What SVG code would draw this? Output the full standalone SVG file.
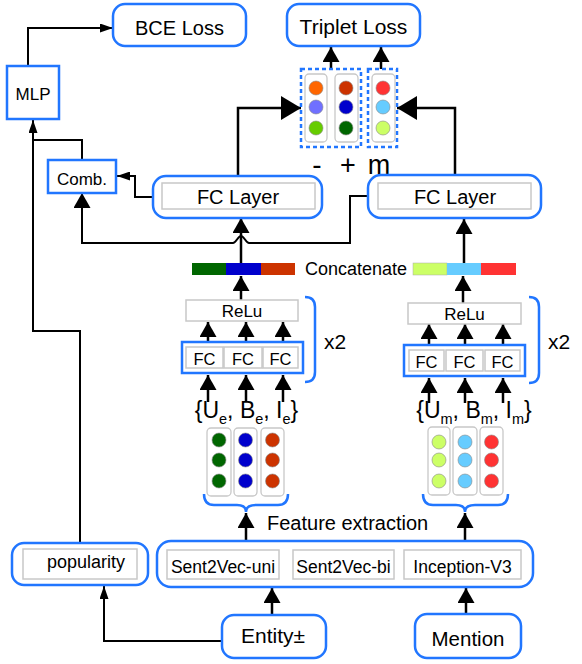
<svg xmlns="http://www.w3.org/2000/svg" width="582" height="664" viewBox="0 0 582 664">
<defs>
<style>
text{font-family:"Liberation Sans",Arial,sans-serif;fill:#000}
.rb{fill:#fff;stroke:#2176ff;stroke-width:2.5}
.sb{fill:#fff;stroke:#2176ff;stroke-width:2.5}
.gb{fill:#fff;stroke:#c8c8c8;stroke-width:1.5}
.col{fill:#fff;stroke:#c8c8c8;stroke-width:1.3}
.dash{fill:none;stroke:#2176ff;stroke-width:2.5;stroke-dasharray:4 3}
.br{fill:none;stroke:#2176ff;stroke-width:2.5}
.c{stroke:#888;stroke-width:0.6}
.ln{fill:none;stroke:#000;stroke-width:2}
.lt{fill:none;stroke:#000;stroke-width:2.5}
</style>
<marker id="big" markerUnits="userSpaceOnUse" markerWidth="20" markerHeight="24" refX="20" refY="12" orient="auto"><path d="M0,0 L20,12 L0,24 z" fill="#000"/></marker>
<marker id="med" markerUnits="userSpaceOnUse" markerWidth="15" markerHeight="17" refX="15" refY="8.5" orient="auto"><path d="M0,0 L15,8.5 L0,17 z" fill="#000"/></marker>
<marker id="sm" markerUnits="userSpaceOnUse" markerWidth="13" markerHeight="9" refX="13" refY="4.5" orient="auto"><path d="M0,0 L13,4.5 L0,9 z" fill="#000"/></marker>
</defs>

<g id="connectors">
<path class="ln" d="M28,66 V28 H113" marker-end="url(#sm)"/>
<path class="ln" d="M82,160 V140 H33"/>
<path class="ln" d="M80,543 V331 H33 V120" marker-end="url(#sm)"/>
<path class="ln" d="M153,197 H135 V176 H117" marker-end="url(#sm)"/>
<path class="ln" d="M368,196 H350 V243 H249 C246,243 244,236 241,236 C238,236 236,243 233,243 H82 V193" marker-end="url(#med)"/>
<path class="lt" d="M238,176 V108 H301" marker-end="url(#big)"/>
<path class="lt" d="M455,175 V108 H397" marker-end="url(#big)"/>
<path class="lt" d="M331,69 V47" marker-end="url(#med)"/>
<path class="lt" d="M381,69 V47" marker-end="url(#med)"/>
<path class="lt" d="M241,263 V218" marker-end="url(#med)"/>
<path class="lt" d="M464,263 V219" marker-end="url(#med)"/>
<path class="lt" d="M241,300 V276" marker-end="url(#med)"/>
<path class="lt" d="M463,303 V276" marker-end="url(#med)"/>
<path class="lt" d="M208,350 V322" marker-end="url(#med)"/>
<path class="lt" d="M246,350 V322" marker-end="url(#med)"/>
<path class="lt" d="M283,350 V322" marker-end="url(#med)"/>
<path class="lt" d="M429,352 V324" marker-end="url(#med)"/>
<path class="lt" d="M465,352 V324" marker-end="url(#med)"/>
<path class="lt" d="M503,352 V324" marker-end="url(#med)"/>
<path class="lt" d="M208,402 V375" marker-end="url(#med)"/>
<path class="lt" d="M246,402 V375" marker-end="url(#med)"/>
<path class="lt" d="M283,402 V375" marker-end="url(#med)"/>
<path class="lt" d="M429,403 V378" marker-end="url(#med)"/>
<path class="lt" d="M465,403 V378" marker-end="url(#med)"/>
<path class="lt" d="M503,403 V378" marker-end="url(#med)"/>
<path class="lt" d="M246,541 V513" marker-end="url(#med)"/>
<path class="lt" d="M465,541 V513" marker-end="url(#med)"/>
<path class="lt" d="M272,615 V588" marker-end="url(#med)"/>
<path class="lt" d="M466,614 V588" marker-end="url(#med)"/>
<path class="ln" d="M222,641 H104 V586" marker-end="url(#sm)"/>
</g>

<g id="bce-loss"><rect class="rb" x="113" y="4" width="133" height="42" rx="12"/><text x="179.5" y="35" font-size="20" text-anchor="middle">BCE Loss</text></g>
<g id="triplet-loss"><rect class="rb" x="287" y="4" width="133" height="42" rx="12"/><text x="353.5" y="34" font-size="21" text-anchor="middle">Triplet Loss</text></g>
<g id="mlp"><rect class="sb" x="7" y="66" width="52" height="53"/><text x="33" y="100" font-size="17" text-anchor="middle">MLP</text></g>
<g id="comb"><rect class="sb" x="48" y="160" width="68" height="33"/><text x="82" y="185" font-size="17" text-anchor="middle">Comb.</text></g>

<g id="triplet-vectors">
<rect class="dash" x="301" y="69" width="60" height="78"/>
<rect class="dash" x="368" y="69" width="29" height="78"/>
<rect class="col" x="305" y="74" width="22" height="68" rx="4"/>
<rect class="col" x="335" y="74" width="23" height="68" rx="4"/>
<rect class="col" x="372" y="74" width="23" height="68" rx="4"/>
<circle class="c" cx="316" cy="88" r="7" fill="#ff6600"/>
<circle class="c" cx="316" cy="107" r="7" fill="#7070ff"/>
<circle class="c" cx="316" cy="128" r="7" fill="#66cc00"/>
<circle class="c" cx="346" cy="88" r="7" fill="#cc3300"/>
<circle class="c" cx="346" cy="107" r="7" fill="#0000cc"/>
<circle class="c" cx="346" cy="128" r="7" fill="#006600"/>
<circle class="c" cx="383" cy="88" r="7" fill="#ff3333"/>
<circle class="c" cx="383" cy="107" r="7" fill="#66ccff"/>
<circle class="c" cx="383" cy="128" r="7" fill="#ccff66"/>
<text x="317" y="174" font-size="28" text-anchor="middle">-</text>
<text x="348" y="174" font-size="27" text-anchor="middle">+</text>
<text x="379" y="174" font-size="27" text-anchor="middle">m</text>
</g>

<g id="fc-layer-left"><rect class="rb" x="153" y="176" width="169" height="42" rx="13"/><rect class="gb" x="162" y="183" width="153" height="26"/><text x="238" y="204" font-size="20" text-anchor="middle">FC Layer</text></g>
<g id="fc-layer-right"><rect class="rb" x="368" y="175" width="173" height="43" rx="13"/><rect class="gb" x="378" y="183" width="153" height="26"/><text x="455" y="204" font-size="20" text-anchor="middle">FC Layer</text></g>

<g id="concat-left">
<rect x="192" y="263" width="34" height="12" fill="#006600"/>
<rect x="226" y="263" width="35" height="12" fill="#0000cc"/>
<rect x="261" y="263" width="34" height="12" fill="#cc3300"/>
</g>
<g id="concat-label"><text x="305" y="275" font-size="18">Concatenate</text></g>
<g id="concat-right">
<rect x="413" y="263" width="34" height="12" fill="#ccff66" stroke="#aaa" stroke-width="0.5"/>
<rect x="447" y="263" width="34" height="12" fill="#66ccff"/>
<rect x="481" y="263" width="35" height="12" fill="#ff3333"/>
</g>

<g id="relu-left"><rect class="gb" x="186" y="300" width="112" height="21"/><text x="242" y="317" font-size="17" text-anchor="middle">ReLu</text></g>
<g id="relu-right"><rect class="gb" x="408" y="303" width="113" height="21"/><text x="464.5" y="320" font-size="17" text-anchor="middle">ReLu</text></g>

<g id="fc-group-left">
<rect class="sb" x="182" y="342" width="121" height="31"/>
<rect class="gb" x="186" y="347" width="37" height="21"/>
<rect class="gb" x="224" y="347" width="38" height="21"/>
<rect class="gb" x="263" y="347" width="35" height="21"/>
<text x="204.5" y="365" font-size="16.5" text-anchor="middle">FC</text>
<text x="243" y="365" font-size="16.5" text-anchor="middle">FC</text>
<text x="280.5" y="365" font-size="16.5" text-anchor="middle">FC</text>
</g>
<g id="fc-group-right">
<rect class="sb" x="404" y="345" width="121" height="31"/>
<rect class="gb" x="409" y="350" width="35" height="21"/>
<rect class="gb" x="446" y="350" width="37" height="21"/>
<rect class="gb" x="485" y="350" width="35" height="21"/>
<text x="426.5" y="368" font-size="16.5" text-anchor="middle">FC</text>
<text x="464.5" y="368" font-size="16.5" text-anchor="middle">FC</text>
<text x="502.5" y="368" font-size="16.5" text-anchor="middle">FC</text>
</g>

<g id="bracket-left"><path class="br" d="M305,297 Q315,297 315,307 V372 Q315,382 305,382"/><text x="324" y="349" font-size="21">x2</text></g>
<g id="bracket-right"><path class="br" d="M529,297 Q539,297 539,307 V373 Q539,383 529,383"/><text x="548" y="349" font-size="21">x2</text></g>

<g id="features-entity"><text x="246.5" y="418" font-size="23" text-anchor="middle">{U<tspan font-size="14.5" dy="6">e</tspan><tspan dy="-6">, B</tspan><tspan font-size="14.5" dy="6">e</tspan><tspan dy="-6">, I</tspan><tspan font-size="14.5" dy="6">e</tspan><tspan dy="-6">}</tspan></text></g>
<g id="features-mention"><text x="474" y="418" font-size="23" text-anchor="middle">{U<tspan font-size="14.5" dy="6">m</tspan><tspan dy="-6">, B</tspan><tspan font-size="14.5" dy="6">m</tspan><tspan dy="-6">, I</tspan><tspan font-size="14.5" dy="6">m</tspan><tspan dy="-6">}</tspan></text></g>

<g id="vectors-entity">
<rect class="col" x="207" y="428" width="24" height="68" rx="4"/>
<rect class="col" x="234" y="428" width="23" height="68" rx="4"/>
<rect class="col" x="261" y="428" width="23" height="68" rx="4"/>
<circle class="c" cx="219" cy="440" r="7" fill="#006600"/>
<circle class="c" cx="219" cy="460" r="7" fill="#006600"/>
<circle class="c" cx="219" cy="481" r="7" fill="#006600"/>
<circle class="c" cx="245.5" cy="440" r="7" fill="#0000cc"/>
<circle class="c" cx="245.5" cy="460" r="7" fill="#0000cc"/>
<circle class="c" cx="245.5" cy="481" r="7" fill="#0000cc"/>
<circle class="c" cx="272.5" cy="440" r="7" fill="#cc3300"/>
<circle class="c" cx="272.5" cy="460" r="7" fill="#cc3300"/>
<circle class="c" cx="272.5" cy="481" r="7" fill="#cc3300"/>
<path class="br" d="M204,494 Q204,505 214,505 H237 Q246,505 246,512 Q246,505 256,505 H278 Q288,505 288,494"/>
</g>
<g id="vectors-mention">
<rect class="col" x="428" y="427" width="22" height="68" rx="4"/>
<rect class="col" x="453" y="427" width="24" height="68" rx="4"/>
<rect class="col" x="480" y="427" width="23" height="68" rx="4"/>
<circle class="c" cx="439" cy="442" r="7" fill="#ccff66"/>
<circle class="c" cx="439" cy="460" r="7" fill="#ccff66"/>
<circle class="c" cx="439" cy="481" r="7" fill="#ccff66"/>
<circle class="c" cx="465" cy="442" r="7" fill="#66ccff"/>
<circle class="c" cx="465" cy="460" r="7" fill="#66ccff"/>
<circle class="c" cx="465" cy="481" r="7" fill="#66ccff"/>
<circle class="c" cx="491.5" cy="442" r="7" fill="#ff3333"/>
<circle class="c" cx="491.5" cy="460" r="7" fill="#ff3333"/>
<circle class="c" cx="491.5" cy="481" r="7" fill="#ff3333"/>
<path class="br" d="M423,494 Q423,505 433,505 H456 Q465,505 465,512 Q465,505 475,505 H498 Q508,505 508,494"/>
</g>

<g id="feature-extraction-label"><text x="267" y="530" font-size="20">Feature extraction</text></g>
<g id="feature-extraction">
<rect class="rb" x="157" y="541" width="376" height="46" rx="14"/>
<rect class="gb" x="167" y="550" width="112" height="29"/>
<rect class="gb" x="293" y="550" width="101" height="29"/>
<rect class="gb" x="404" y="550" width="117" height="29"/>
<text x="223" y="573" font-size="17.5" text-anchor="middle">Sent2Vec-uni</text>
<text x="343.5" y="573" font-size="17.5" text-anchor="middle">Sent2Vec-bi</text>
<text x="462.5" y="573" font-size="17.5" text-anchor="middle">Inception-V3</text>
</g>
<g id="popularity"><rect class="rb" x="12" y="543" width="136" height="42" rx="12"/><rect class="gb" x="23" y="549" width="114" height="30"/><text x="47" y="568" font-size="18">popularity</text></g>
<g id="entity"><rect class="rb" x="222" y="615" width="104" height="43" rx="12"/><text x="241" y="643" font-size="21">Entity±</text></g>
<g id="mention"><rect class="rb" x="415" y="614" width="106" height="44" rx="12"/><text x="468" y="646" font-size="20.5" text-anchor="middle">Mention</text></g>
</svg>
